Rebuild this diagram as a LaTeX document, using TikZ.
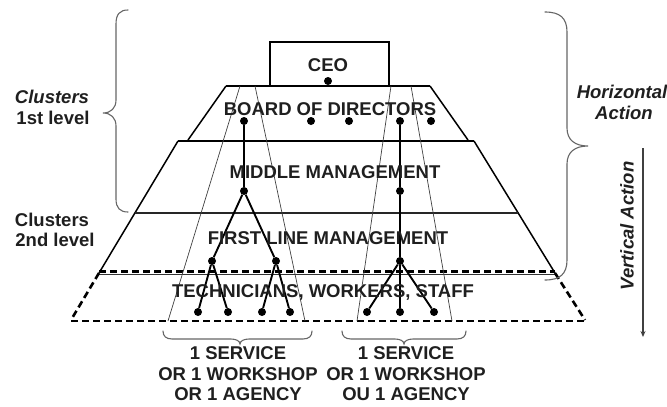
\documentclass[tikz,border=0pt]{standalone}
\usepackage{fontspec}
\setmainfont{Liberation Sans}
\usetikzlibrary{arrows.meta}
\begin{document}
\begin{tikzpicture}[x=1pt,y=-1pt,
  edge/.style={line width=1.5pt, black},
  thickedge/.style={line width=2pt, black},
  thinline/.style={line width=0.7pt, black!75},
  dashedge/.style={line width=2.6pt, dash pattern=on 7pt off 4pt, black},
  dot/.style={circle, fill=black, inner sep=0pt, minimum size=8pt},
  tree/.style={line width=1.9pt, black},
  bracestyle/.style={line width=1.1pt, black!60, line cap=round},
  lbl/.style={font=\bfseries\fontsize{18.5}{20.5}\selectfont, text=black!88, inner sep=0pt},
  ilbl/.style={inner sep=0pt, text=black!88, font=\bfseries\itshape\fontsize{18.5}{20.5}\selectfont},
]
\useasboundingbox (0,0) rectangle (667,407);

% CEO box
\draw[edge] (270,86) -- (270,42) -- (389,42) -- (389,86);
% board of directors band
\draw[thickedge] (226,86) -- (430,86);
\draw[edge] (226,86) -- (188,140);
\draw[edge] (430,86) -- (468,140);
% middle management top
\draw[thickedge] (178,141) -- (474,141);
% outer edges
\draw[edge] (178,141) -- (99,273);
\draw[edge] (474,141) -- (555,273);
% first line management top
\draw[line width=1.2pt, black!85] (135,213) -- (518,213);
% technicians band
\draw[line width=0.8pt, black!80] (99,274.5) -- (555,274.5);
\draw[dashedge] (99,271.5) -- (555,271.5);
\draw[dashedge] (99,273) -- (71,320);
\draw[dashedge] (555,273) -- (585,320);
\draw[dashedge] (71,321) -- (587,321);

% cluster lines
\draw[thinline] (240,86) -- (168,321);
\draw[thinline] (255,86) -- (305,321);
\draw[thinline] (391,86) -- (357,321);
\draw[thinline] (411,86) -- (452,321);

% dots
\node[dot] (ceo) at (328,81) {};
\node[dot] (b1) at (244,121) {};
\node[dot] (b2) at (311,121) {};
\node[dot] (b3) at (349,121) {};
\node[dot] (b4) at (400,121) {};
\node[dot] (b5) at (431,121) {};
\node[dot] (m1) at (244,191) {};
\node[dot] (m2) at (400,191) {};
\node[dot] (f1) at (212,261) {};
\node[dot] (f2) at (276,261) {};
\node[dot] (f3) at (400,261) {};
\node[dot] (t1) at (198,312) {};
\node[dot] (t2) at (228,312) {};
\node[dot] (t3) at (262,312) {};
\node[dot] (t4) at (290,312) {};
\node[dot] (t5) at (367,312) {};
\node[dot] (t6) at (400,312) {};
\node[dot] (t7) at (434,312) {};

\draw[tree] (b1) -- (m1);
\draw[tree] (m1) -- (f1);
\draw[tree] (m1) -- (f2);
\draw[tree] (f1) -- (t1);
\draw[tree] (f1) -- (t2);
\draw[tree] (f2) -- (t3);
\draw[tree] (f2) -- (t4);
\draw[tree] (b4) -- (m2);
\draw[tree] (m2) -- (f3);
\draw[tree] (f3) -- (t5);
\draw[tree] (f3) -- (t6);
\draw[tree] (f3) -- (t7);

% band labels
\node[lbl] (lceo) at (328,65) {CEO};
\node[lbl] (lboard) at (330,109) {BOARD OF DIRECTORS};
\node[lbl] (lmid) at (335,172) {MIDDLE MANAGEMENT};
\node[lbl] (lfirst) at (328,238) {FIRST LINE MANAGEMENT};
\node[lbl] (ltech) at (323,292) {TECHNICIANS, WORKERS, STAFF};

% left braces and labels
\draw[bracestyle] (128,10) .. controls (120,10) and (116,14) .. (116,24) -- (116,100)
  .. controls (116,108) and (111,113) .. (103,113)
  .. controls (111,113) and (116,118) .. (116,126) -- (116,199)
  .. controls (116,208) and (120,212) .. (128,212);
\node[ilbl] (c1a) at (52,97) {Clusters};
\node[lbl] (c1b) at (53,118) {1st level};
\node[lbl] (c2a) at (52,220) {Clusters};
\node[lbl] (c2b) at (55,240) {2nd level};

% right brace and labels
\draw[bracestyle] (545,12) .. controls (560,12) and (567,18) .. (567,32) -- (567,128)
  .. controls (567,140) and (575,146) .. (588,146)
  .. controls (575,146) and (567,152) .. (567,164) -- (567,260)
  .. controls (567,274) and (560,280) .. (545,280);
\node[ilbl] (h1) at (622,92) {Horizontal};
\node[ilbl] (h2) at (624,113) {Action};
\node[ilbl, rotate=90] (va) at (627,226) {Vertical Action};
\coordinate (vtop) at (643,148);
\coordinate (vbot) at (643,337);
\draw[line width=1.5pt, black!75, -{Stealth[length=6pt,width=5pt]}] (vtop) -- (vbot);

% bottom braces and labels
\draw[bracestyle] (163,331) .. controls (163,336) and (166,339) .. (172,339) -- (231,339)
  .. controls (236,339) and (240,341) .. (240,344)
  .. controls (240,341) and (244,339) .. (249,339) -- (303,339)
  .. controls (309,339) and (312,336) .. (312,331);
\draw[bracestyle] (342,331) .. controls (342,336) and (345,339) .. (351,339) -- (395,339)
  .. controls (400,339) and (404,341) .. (404,344)
  .. controls (404,341) and (408,339) .. (413,339) -- (457,339)
  .. controls (463,339) and (466,336) .. (466,331);
\node[lbl, align=center] (s1) at (238,374) {1 SERVICE\\OR 1 WORKSHOP\\OR 1 AGENCY};
\node[lbl, align=center] (s2) at (406,374) {1 SERVICE\\OR 1 WORKSHOP\\OU 1 AGENCY};
\end{tikzpicture}
\end{document}
